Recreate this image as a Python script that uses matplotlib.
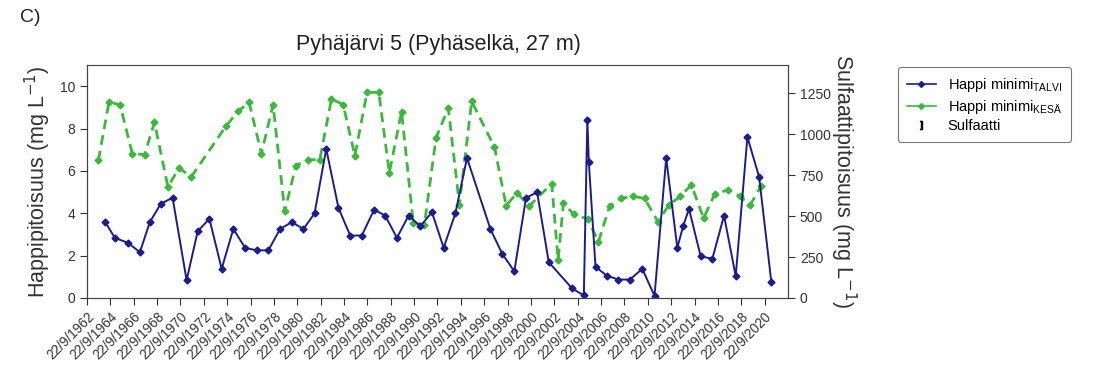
import numpy as np
import matplotlib
matplotlib.use("Agg")
import matplotlib.pyplot as plt
from matplotlib.lines import Line2D

plt.rcParams['font.family'] = ['Liberation Sans', 'DejaVu Sans']

# talven happiminimi (vuosi, mg/l)
talvi_vuosi = [1964.3, 1965.1, 1966.25, 1967.25, 1968.1, 1969.05, 1970.05, 1971.25, 1972.2, 1973.2,
               1974.25, 1975.25, 1976.25, 1977.25, 1978.25, 1979.25, 1980.25, 1981.25, 1982.2, 1983.2,
               1984.25, 1985.25, 1986.25, 1987.3, 1988.25, 1989.25, 1990.25, 1991.25, 1992.25, 1993.25,
               1994.25, 1995.25, 1997.25, 1998.25, 1999.3, 2000.3, 2001.25, 2002.25, 2004.25, 2005.25,
               2005.55, 2005.68, 2006.25, 2007.2, 2008.2, 2009.2, 2010.25, 2011.3, 2012.3, 2013.25,
               2013.75, 2014.25, 2015.25, 2016.25, 2017.25, 2018.25, 2019.25, 2020.25, 2021.3]
talvi_happi = [3.58, 2.84, 2.60, 2.16, 3.58, 4.46, 4.73, 0.84, 3.15, 3.74,
               1.38, 3.26, 2.37, 2.25, 2.25, 3.26, 3.58, 3.26, 3.99, 7.04,
               4.25, 2.95, 2.95, 4.17, 3.89, 2.84, 3.89, 3.39, 4.05, 2.37,
               3.99, 6.61, 3.26, 2.10, 1.26, 4.73, 4.99, 1.69, 0.45, 0.12,
               8.42, 6.40, 1.47, 1.06, 0.87, 0.87, 1.38, 0.10, 6.61, 2.37,
               3.39, 4.21, 1.97, 1.85, 3.89, 1.03, 7.60, 5.72, 0.75]

# kesän happiminimi (vuosi, mg/l)
kesa_vuosi = [1963.7, 1964.6, 1965.55, 1966.6, 1967.65, 1968.5, 1969.65, 1970.6, 1971.65, 1974.6,
              1975.65, 1976.6, 1977.65, 1978.65, 1979.65, 1980.6, 1981.65, 1982.65, 1983.65, 1984.65,
              1985.65, 1986.7, 1987.7, 1988.6, 1989.65, 1990.65, 1991.6, 1992.6, 1993.65, 1994.6,
              1995.65, 1997.6, 1998.6, 1999.55, 2000.55, 2002.5, 2003.05, 2003.5, 2004.4, 2005.6,
              2006.5, 2007.45, 2008.45, 2009.45, 2010.45, 2011.6, 2012.5, 2013.5, 2014.45, 2015.5,
              2016.45, 2017.55, 2018.6, 2019.5, 2020.4]
kesa_happi = [6.50, 9.24, 9.13, 6.82, 6.77, 8.29, 5.25, 6.14, 5.72, 8.10,
              8.81, 9.24, 6.82, 9.13, 4.09, 6.25, 6.53, 6.53, 9.40, 9.13,
              6.72, 9.71, 9.71, 5.91, 8.80, 3.55, 3.45, 7.56, 8.97, 4.41,
              9.28, 7.13, 4.36, 4.97, 4.33, 5.40, 1.80, 4.47, 3.95, 3.72,
              2.65, 4.33, 4.70, 4.80, 4.70, 3.60, 4.37, 4.80, 5.34, 3.77,
              4.90, 5.10, 4.80, 4.40, 5.27]

tick_vuodet = list(range(1962, 2021, 2))
tick_nimet = [f"22/9/{v}" for v in tick_vuodet]
vas_ticks = [0, 2, 4, 6, 8, 10]
oik_ticks = [0, 250, 500, 750, 1000, 1250]

sininen = '#1c1c8c'
vihrea = '#3cb83c'

fig = plt.figure(figsize=(10.97, 3.87), dpi=100)
ax = fig.add_axes([0.0793, 0.23, 0.639, 0.602])
ax2 = ax.twinx()

ax.plot(talvi_vuosi, talvi_happi, color=sininen, lw=1.4, marker='D', ms=3.5, zorder=3)
ax.plot(kesa_vuosi, kesa_happi, color=vihrea, lw=2.0, ls=(0, (3.5, 2.2)), marker='D', ms=3.5, zorder=2)

x0 = 1962 + 264 / 365
ax.set_xlim(x0, x0 + 60.0)
ax.set_ylim(0, 11)
ax2.set_ylim(0, 1422)

ax.set_xticks([v + 264 / 365 for v in tick_vuodet])
ax.set_xticklabels(tick_nimet, rotation=45, ha='right', rotation_mode='anchor', fontsize=9.8, color='#333333')
ax.set_yticks(vas_ticks)
ax.tick_params(axis='y', labelsize=10, colors='#333333', length=5)
ax.tick_params(axis='x', length=5, colors='#333333')
ax2.set_yticks(oik_ticks)
ax2.tick_params(axis='y', labelsize=10, colors='#333333', length=5)

for s in ['left', 'bottom', 'right', 'top']:
    ax2.spines[s].set_color('#444444')
    ax.spines[s].set_color('#444444')
ax.spines['top'].set_color('#888888')

ax.set_ylabel("Happipitoisuus (mg L$^{-1}$)", fontsize=15.5, color='#333333', labelpad=5)
ax2.set_ylabel("Sulfaattipitoisuus (mg L$^{-1}$)", fontsize=15.5, color='#333333', rotation=-90, labelpad=20)

fig.text(0.4, 0.885, "Pyhäjärvi 5 (Pyhäselkä, 27 m)", fontsize=15.5, ha='center', va='center', color='#222222')
fig.text(0.018, 0.955, "C)", fontsize=14, ha='left', va='center', color='#222222')

handles = [
    Line2D([], [], color=sininen, lw=1.2, marker='D', ms=3),
    Line2D([], [], color=vihrea, lw=1.2, marker='D', ms=3),
    Line2D([], [], color='black', lw=0, marker='$]$', ms=6),
]
labels = ["Happi minimi$_{\\mathregular{TALVI}}$", "Happi minimi$_{\\mathregular{KESÄ}}$", "Sulfaatti"]
leg = fig.legend(handles, labels, loc='upper left', bbox_to_anchor=(0.812, 0.845), fontsize=10.5,
                 frameon=True, fancybox=True, edgecolor='#555555', handlelength=2.0,
                 labelspacing=0.25, borderpad=0.6, handletextpad=0.8)
leg.get_frame().set_linewidth(0.8)

fig.savefig("out.png", dpi=100)
